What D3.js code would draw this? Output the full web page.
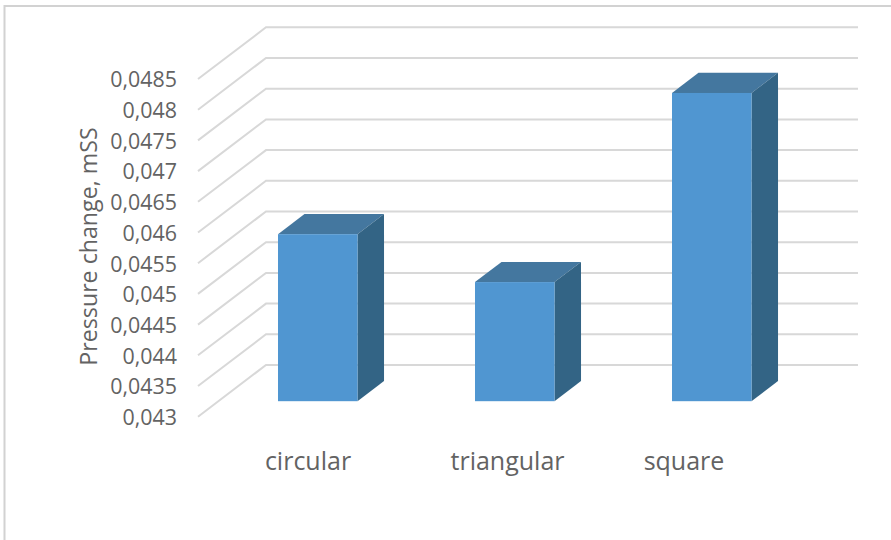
<!DOCTYPE html>
<html>
<head>
<meta charset="utf-8">
<script src="https://cdn.jsdelivr.net/npm/d3@7/dist/d3.min.js"></script>
<style>
html,body{margin:0;padding:0;background:#fff;overflow:hidden}
svg{display:block}
text{font-family:"Open Sans",sans-serif;fill:#636363}
</style>
</head>
<body>
<script>
const categories = ["circular", "triangular", "square"];
const pressureChange = [0.04572, 0.04494, 0.04802];
const yTicks = [0.043, 0.0435, 0.044, 0.0445, 0.045, 0.0455, 0.046, 0.0465, 0.047, 0.0475, 0.048, 0.0485];
const yTickLabels = ["0,043", "0,0435", "0,044", "0,0445", "0,045", "0,0455", "0,046", "0,0465", "0,047", "0,0475", "0,048", "0,0485"];
const yTitle = "Pressure change, mSS";

const W = 891, H = 540;
const svg = d3.select("body").append("svg").attr("width", W).attr("height", H);

// Oblique projection: depth 0 is the front of the floor, depth 1 the back wall.
const depthX = 68, depthY = 51.7;
const y = d3.scaleLinear().domain([0.043, 0.0485]).range([416.7, 79]);
const x = d3.scaleBand().domain(categories).range([219.25, 810.25])
  .paddingInner(0.5964).paddingOuter(0.2982);
const labelX = d3.scaleOrdinal().domain(categories).range([308, 507.5, 684]);
const barFront = 0.3, barBack = 0.69;

// Chart frame: top and left edges only reach the picture
svg.append("path")
  .attr("d", `M${W},6H4.5V${H}`)
  .attr("fill", "none").attr("stroke", "#d2d2d2").attr("stroke-width", 2);

// Gridlines bent along the side wall and the back wall
svg.append("g").selectAll("path").data(yTicks).join("path")
  .attr("d", d => `M198,${y(d)}L${198 + depthX},${y(d) - depthY}H858`)
  .attr("fill", "none").attr("stroke", "#d8d8d8").attr("stroke-width", 2);

// Value labels
svg.append("g").selectAll("text").data(yTicks).join("text")
  .attr("x", 177).attr("y", d => y(d))
  .attr("dy", "0.39em").attr("text-anchor", "end").attr("font-size", 21.4)
  .text((d, i) => yTickLabels[i]);

// Axis title
svg.append("text")
  .attr("transform", "translate(97,246.5) rotate(-90)")
  .attr("text-anchor", "middle").attr("font-size", 23.2)
  .text(yTitle);

// Category labels
svg.append("g").selectAll("text").data(categories).join("text")
  .attr("x", d => labelX(d)).attr("y", 470)
  .attr("text-anchor", "middle").attr("font-size", 25)
  .text(d => d);

// Three-sided bars
const bars = svg.append("g").selectAll("g")
  .data(categories.map((c, i) => ({ c, v: pressureChange[i] })))
  .join("g");

const dx = (barBack - barFront) * depthX;
const dy = (barBack - barFront) * depthY;
const frontY = v => y(v) - barFront * depthY;

bars.append("path")
  .attr("fill", "#44779f")
  .attr("d", d => {
    const l = x(d.c), r = l + x.bandwidth(), t = frontY(d.v);
    return `M${l},${t}L${l + dx},${t - dy}H${r + dx}L${r},${t}Z`;
  });
bars.append("path")
  .attr("fill", "#336485")
  .attr("d", d => {
    const r = x(d.c) + x.bandwidth(), t = frontY(d.v), b = frontY(y.domain()[0]);
    return `M${r},${t}L${r + dx},${t - dy}V${b - dy}L${r},${b}Z`;
  });
bars.append("rect")
  .attr("fill", "#5096d1")
  .attr("x", d => x(d.c))
  .attr("y", d => frontY(d.v))
  .attr("width", x.bandwidth())
  .attr("height", d => frontY(y.domain()[0]) - frontY(d.v));
</script>
</body>
</html>
